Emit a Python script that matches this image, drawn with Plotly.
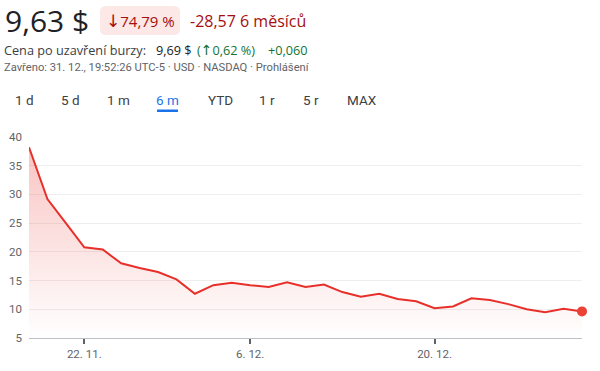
import plotly.graph_objects as go

# ---- data ----
day_index = list(range(31))
prices = [38.2, 29.2, 25.0, 20.8, 20.4, 18.0, 17.2, 16.5, 15.2, 12.7,
          14.2, 14.6, 14.2, 13.9, 14.7, 13.9, 14.3, 13.0, 12.2, 12.7,
          11.8, 11.4, 10.2, 10.5, 11.9, 11.6, 10.9, 10.0, 9.5, 10.1, 9.63]
x_tick_pos = [3, 12, 22]
x_tick_labels = ["22. 11.", "6. 12.", "20. 12."]
y_ticks = [5, 10, 15, 20, 25, 30, 35, 40]
tabs = ["1 d", "5 d", "1 m", "6 m", "YTD", "1 r", "5 r", "MAX"]
tab_centers_px = [24, 70, 118, 167, 220, 267, 311, 362]
active_tab = "6 m"

W, H = 600, 371
L, R, T, B = 29, 18, 137, 33
pw, ph = W - L - R, H - T - B

def px(x):
    return (x - L) / pw

def py(y):
    return (H - B - y) / ph

RED = "#e8302a"
GRAY = "#5f6368"
DOWN = "#a50e0e"
UP = "#137333"

fig = go.Figure()
fig.add_trace(go.Scatter(
    x=day_index, y=prices, mode="lines",
    line=dict(color=RED, width=2),
    fill="tozeroy",
    fillgradient=dict(type="vertical", start=5, stop=38,
                      colorscale=[[0, "rgba(232,48,42,0)"], [1, "rgba(232,48,42,0.28)"]]),
    hoverinfo="skip", cliponaxis=False,
))
fig.add_trace(go.Scatter(
    x=[day_index[-1]], y=[prices[-1]], mode="markers",
    marker=dict(color="#ea4335", size=10), cliponaxis=False, hoverinfo="skip",
))

def note(x, y, text, size, color, family="Open Sans", xanchor="left"):
    return dict(x=px(x), y=py(y), xref="paper", yref="paper", text=text, showarrow=False,
                xanchor=xanchor, yanchor="middle",
                font=dict(family=family, size=size, color=color))

ARROW = "<span style='font-size:17px;font-family:DejaVu Sans'>{}</span>"

ann = []
ann.append(note(3, 21, "9,63 $", 30, "#202124"))
ann.append(note(140, 21, ARROW.format("↓") + "74,79 %", 15, DOWN, xanchor="center"))
ann.append(note(188, 21, "-28,57 6 měsíců", 16, DOWN))
ann.append(note(2, 50, "Cena po uzavření burzy:", 12.7, "#3c4043"))
ann.append(note(154, 50, "9,69 $", 12.7, "#202124"))
ann.append(note(195, 50, "(" + ARROW.format("↑").replace("17px", "14px") + "0,62 %)", 12.7, UP))
ann.append(note(266, 50, "+0,060", 12.7, UP))
ann.append(note(2, 68, "Zavřeno: 31. 12., 19:52:26 UTC-5 · USD · NASDAQ · Prohlášení", 11.2, GRAY,
                family="Roboto"))
for t, c in zip(tabs, tab_centers_px):
    ann.append(note(c, 100, t, 13.5, "#1a73e8" if t == active_tab else "#3c4043",
                    family="Roboto", xanchor="center"))

shapes = []
x0, x1, y0, y1, r = 100, 180, 6, 35, 6
path = (f"M {px(x0+r)} {py(y0)} L {px(x1-r)} {py(y0)} Q {px(x1)} {py(y0)} {px(x1)} {py(y0+r)} "
        f"L {px(x1)} {py(y1-r)} Q {px(x1)} {py(y1)} {px(x1-r)} {py(y1)} "
        f"L {px(x0+r)} {py(y1)} Q {px(x0)} {py(y1)} {px(x0)} {py(y1-r)} "
        f"L {px(x0)} {py(y0+r)} Q {px(x0)} {py(y0)} {px(x0+r)} {py(y0)} Z")
shapes.append(dict(type="path", xref="paper", yref="paper", path=path,
                   fillcolor="#fce8e6", line=dict(width=0), layer="below"))
ci = tabs.index(active_tab)
shapes.append(dict(type="rect", xref="paper", yref="paper",
                   x0=px(tab_centers_px[ci] - 10), x1=px(tab_centers_px[ci] + 11),
                   y0=py(112), y1=py(109.5), fillcolor="#1a73e8", line=dict(width=0)))

fig.update_layout(
    width=W, height=H, margin=dict(l=L, r=R, t=T, b=B, autoexpand=False),
    paper_bgcolor="white", plot_bgcolor="white", showlegend=False,
    annotations=ann, shapes=shapes,
    xaxis=dict(range=[0, 30], tickvals=x_tick_pos, ticktext=x_tick_labels, automargin=False,
               showgrid=False, zeroline=False, showline=True, linecolor="#bdc1c6", linewidth=1,
               ticks="outside", ticklen=5, tickcolor="#5f6368", tickwidth=1.5,
               tickfont=dict(family="Roboto", size=11.5, color=GRAY), fixedrange=True),
    yaxis=dict(range=[5, 40], tickvals=y_ticks, showgrid=True, gridcolor="#eeeeee", automargin=False,
               zeroline=False, showline=False, ticks="", ticklabelstandoff=6,
               tickfont=dict(family="Roboto", size=11.5, color=GRAY), fixedrange=True),
)
fig.write_html("out.html", config={"displayModeBar": False},
               post_script="document.body.style.margin='0';")
